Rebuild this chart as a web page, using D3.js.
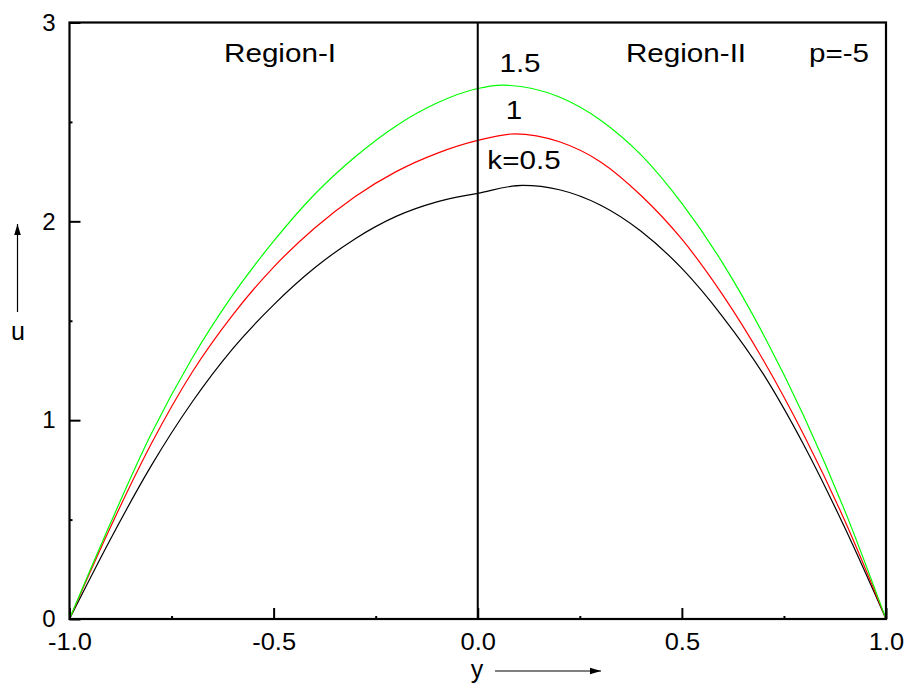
<!DOCTYPE html>
<html><head><meta charset="utf-8">
<script src="https://cdn.jsdelivr.net/npm/d3@7/dist/d3.min.js"></script>
<style>body{margin:0;background:#fff}svg{display:block}text{font-family:"Liberation Sans",Arial,sans-serif}</style>
</head><body>
<svg id="c" width="906" height="686"></svg>
<script>
// Data (y, u)
const seriesK05 = [[-1,0],[-0.9,0.40],[-0.8,0.77],[-0.7,1.09],[-0.6,1.36],[-0.5,1.58],[-0.4,1.765],[-0.3,1.913],[-0.2,2.025],[-0.1,2.098],[0,2.141],[0.11,2.181],[0.2,2.159],[0.3,2.082],[0.4,1.950],[0.5,1.763],[0.6,1.52],[0.7,1.23],[0.8,0.87],[0.9,0.455],[1,0]];
const seriesK1 = [[-1,0],[-0.9,0.46],[-0.8,0.88],[-0.7,1.24],[-0.6,1.53],[-0.5,1.77],[-0.4,1.965],[-0.3,2.125],[-0.2,2.25],[-0.1,2.342],[0,2.407],[0.09,2.44],[0.2,2.40],[0.3,2.30],[0.4,2.13],[0.5,1.91],[0.6,1.63],[0.7,1.30],[0.8,0.92],[0.9,0.49],[1,0]];
const seriesK15 = [[-1,0],[-0.9,0.48],[-0.8,0.93],[-0.7,1.31],[-0.6,1.63],[-0.5,1.90],[-0.4,2.135],[-0.3,2.325],[-0.2,2.48],[-0.1,2.595],[0,2.668],[0.06,2.685],[0.2,2.625],[0.3,2.51],[0.4,2.334],[0.5,2.09],[0.6,1.79],[0.7,1.43],[0.8,1.015],[0.9,0.54],[1,0]];
const seriesNames = ["k=0.5","1","1.5"];
const seriesColors = ["#000000","#ff0000","#00ff00"];
const xTicks = [-1.0,-0.5,0.0,0.5,1.0];
const xMinorTicks = [-0.75,-0.25,0.25,0.75];
const yTicks = [0,1,2,3];
const yMinorTicks = [0.5,1.5,2.5];

const svg = d3.select("#c");
const L=69.5, R=886, T=22.5, B=619;
const x = d3.scaleLinear().domain([-1,1]).range([L,R]);
const y = d3.scaleLinear().domain([0,3]).range([B,T]);

// curves
const line = d3.line().x(d=>x(d[0])).y(d=>y(d[1])).curve(d3.curveMonotoneX);
[seriesK05,seriesK1,seriesK15].forEach((s,i)=>{
  svg.append("path").datum(s).attr("d",line).attr("fill","none")
    .attr("stroke",seriesColors[i]).attr("stroke-width",1.2);
});

// vertical interface line at y=0
svg.append("line").attr("x1",x(0)).attr("x2",x(0)).attr("y1",y(0)).attr("y2",y(3))
  .attr("stroke","#000").attr("stroke-width",2);

// frame
svg.append("rect").attr("x",L).attr("y",T).attr("width",R-L).attr("height",B-T)
  .attr("fill","none").attr("stroke","#000").attr("stroke-width",2.2);

// axes
const fs = "24px";
const gx = svg.append("g").attr("transform",`translate(0,${B})`)
  .call(d3.axisBottom(x).tickValues(xTicks).tickSize(-11).tickPadding(14).tickFormat(d=>d.toFixed(1)));
const gxm = svg.append("g").attr("transform",`translate(0,${B})`)
  .call(d3.axisBottom(x).tickValues(xMinorTicks).tickSize(-3).tickFormat(""));
const gy = svg.append("g").attr("transform",`translate(${L},0)`)
  .call(d3.axisLeft(y).tickValues(yTicks).tickSize(-11).tickPadding(14).tickFormat(d3.format("d")));
const gym = svg.append("g").attr("transform",`translate(${L},0)`)
  .call(d3.axisLeft(y).tickValues(yMinorTicks).tickSize(-3).tickFormat(""));
[gx,gxm,gy,gym].forEach(g=>{
  g.select(".domain").remove();
  g.selectAll(".tick line").attr("stroke","#000").attr("stroke-width",2);
  g.selectAll("text").attr("font-size",fs).attr("fill","#000").attr("font-family",'"Liberation Sans",Arial,sans-serif');
});
gx.selectAll("text").attr("transform","scale(1.06,1)");

// axis titles with arrows
const defs = svg.append("defs");
defs.append("marker").attr("id","ah").attr("viewBox","0 0 10 10").attr("refX",10).attr("refY",5)
  .attr("markerWidth",11).attr("markerHeight",11).attr("markerUnits","userSpaceOnUse").attr("orient","auto")
  .append("path").attr("d","M0,2L10,5L0,8Z").attr("fill","#000");
svg.append("text").attr("x",477).attr("y",678).attr("text-anchor","middle").attr("font-size","25px").text("y");
svg.append("line").attr("x1",495).attr("x2",601).attr("y1",671).attr("y2",671)
  .attr("stroke","#000").attr("stroke-width",1.2).attr("marker-end","url(#ah)");
svg.append("text").attr("x",18).attr("y",340).attr("text-anchor","middle").attr("font-size","25px").text("u");
svg.append("line").attr("x1",17.5).attr("x2",17.5).attr("y1",312).attr("y2",224)
  .attr("stroke","#000").attr("stroke-width",1.2).attr("marker-end","url(#ah)");

// annotations
const ann = [["Region-I",280,62],["Region-II",686,62],["p=-5",839,62],["1.5",520,72],["1",514,119],["k=0.5",524,169]];
ann.forEach(a=>svg.append("text").attr("transform",`translate(${a[1]},${a[2]}) scale(1.14,1)`)
  .attr("text-anchor","middle").attr("font-size","26px").attr("fill","#000").text(a[0]));
</script>
</body></html>
